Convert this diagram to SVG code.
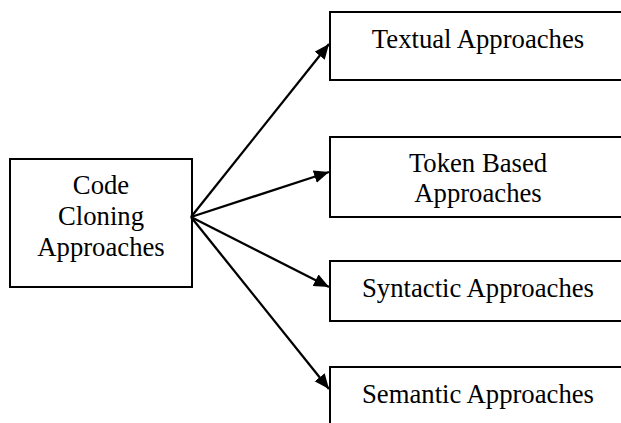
<svg xmlns="http://www.w3.org/2000/svg" width="621" height="423" viewBox="0 0 621 423">
<style>
.box{fill:#fff;stroke:#000;stroke-width:2}
.t{font-family:"Liberation Serif","Times New Roman",serif;font-size:26.7px;fill:#000;text-anchor:middle}
.c{stroke:#000;stroke-width:2.3;fill:none;marker-end:url(#ah)}
</style>
<defs>
<marker id="ah" markerUnits="userSpaceOnUse" markerWidth="17" markerHeight="14" refX="15" refY="6.5" orient="auto">
<path d="M0,0 L15,6.5 L0,13 z" fill="#000"/>
</marker>
</defs>
<rect width="621" height="423" fill="#fff"/>
<g id="code-cloning">
<rect class="box" x="10" y="159" width="182" height="128"/>
<text class="t" x="101" y="194">Code</text>
<text class="t" x="101" y="225">Cloning</text>
<text class="t" x="101" y="256">Approaches</text>
</g>
<g id="textual">
<rect class="box" x="330" y="12" width="300" height="68"/>
<text class="t" x="478" y="48">Textual Approaches</text>
</g>
<g id="token">
<rect class="box" x="330" y="137" width="300" height="80"/>
<text class="t" x="478" y="172">Token Based</text>
<text class="t" x="478" y="202">Approaches</text>
</g>
<g id="syntactic">
<rect class="box" x="330" y="261" width="300" height="60"/>
<text class="t" x="478" y="297">Syntactic Approaches</text>
</g>
<g id="semantic">
<rect class="box" x="330" y="367" width="300" height="70"/>
<text class="t" x="478" y="403">Semantic Approaches</text>
</g>
<g id="connectors">
<line class="c" x1="191" y1="217" x2="329" y2="44"/>
<line class="c" x1="191" y1="217" x2="329" y2="172"/>
<line class="c" x1="191" y1="217" x2="329" y2="287"/>
<line class="c" x1="191" y1="217" x2="329" y2="389"/>
</g>
</svg>
